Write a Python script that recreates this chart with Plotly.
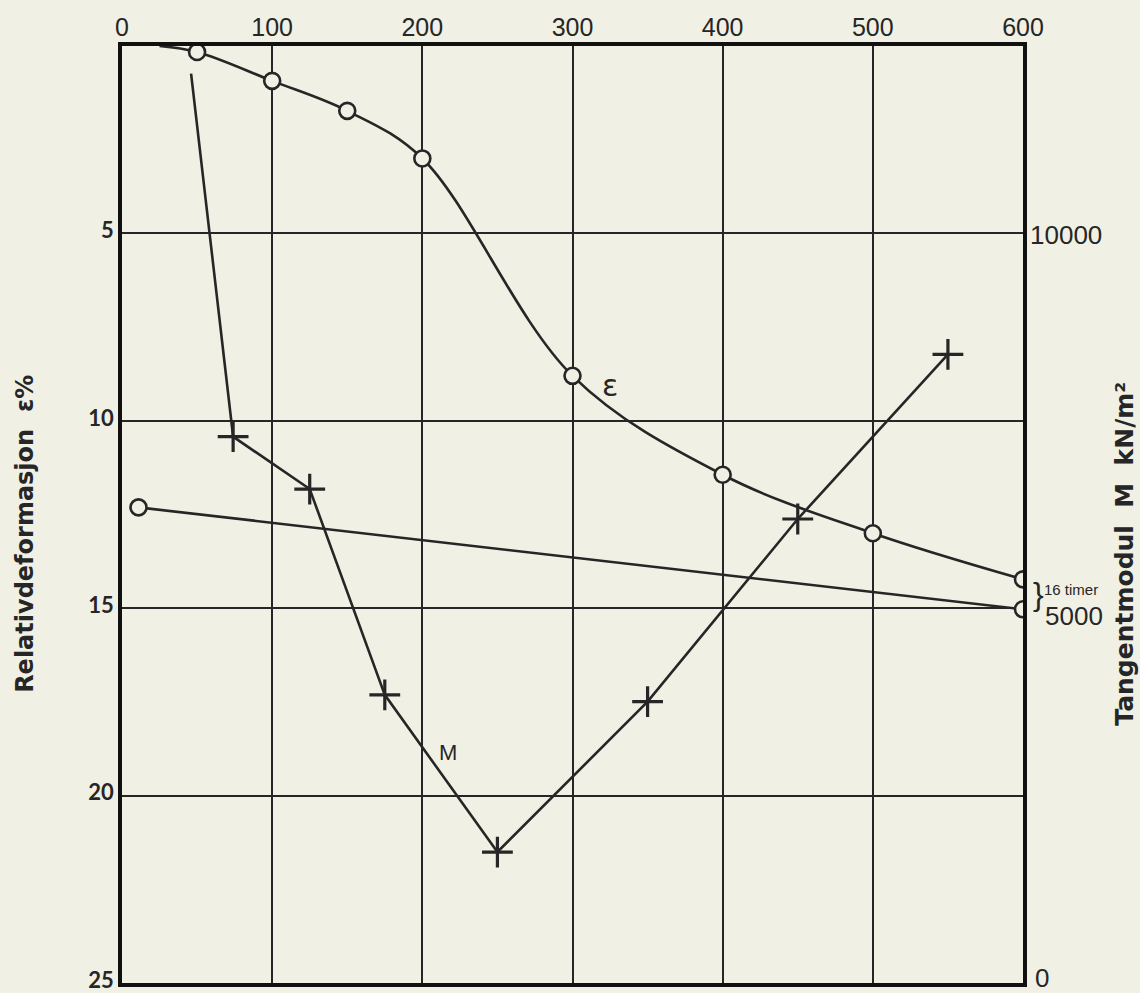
import plotly.graph_objects as go

# Oedometer test: load step (kN/m²) on the top axis
load_ticks = [0, 100, 200, 300, 400, 500, 600]

# Relative deformation ε (%) during loading
eps_load = [25, 50, 100, 150, 200, 300, 400, 500, 600]
eps_value = [0.0, 0.16, 0.93, 1.73, 3.0, 8.8, 11.44, 13.0, 14.23]

# After 16 hours at 600, then unloading
unload_load = [600, 11]
unload_eps = [15.03, 12.31]

# Tangent modulus M (kN/m²), plotted at the midpoint of each load step
m_load = [46, 74, 125, 175, 250, 350, 450, 550]
m_value = [12150, 7300, 6600, 3850, 1750, 3760, 6200, 8400]

eps_ticks = [5, 10, 15, 20, 25]
m_ticks = [0, 5000, 10000]
m_tick_text = ["0", "5000", "10000"]

INK = "#262626"
PAPER = "#f1f0e4"
PLAIN = "Liberation Sans, Arial, sans-serif"
BOLD = "Lato, Open Sans, sans-serif"
TITLE = "DejaVu Sans, sans-serif"

fig = go.Figure()

fig.add_trace(go.Scatter(
    x=eps_load, y=eps_value, mode="lines+markers",
    line=dict(color=INK, width=2.6, shape="spline", smoothing=1.0),
    marker=dict(symbol="circle", size=[0] + [16] * (len(eps_load) - 1),
                color=PAPER, opacity=1, line=dict(color=INK, width=2.6)),
    yaxis="y", showlegend=False, hoverinfo="skip",
))

fig.add_trace(go.Scatter(
    x=unload_load, y=unload_eps, mode="lines+markers",
    line=dict(color=INK, width=2.6),
    marker=dict(symbol="circle", size=16, color=PAPER, opacity=1,
                line=dict(color=INK, width=2.6)),
    yaxis="y", showlegend=False, hoverinfo="skip",
))

fig.add_trace(go.Scatter(
    x=m_load, y=m_value, mode="lines+markers",
    line=dict(color=INK, width=2.6),
    marker=dict(symbol="cross-thin-open", size=[0] + [22] * (len(m_load) - 1),
                color=INK, opacity=1, line=dict(color=INK, width=3.2)),
    yaxis="y2", showlegend=False, hoverinfo="skip",
))

annotations = [
    dict(x=325, y=9.07, xref="x", yref="y", text="ε", showarrow=False,
         font=dict(family="DejaVu Sans", size=30, color=INK)),
    dict(x=217, y=18.86, xref="x", yref="y", text="M", showarrow=False,
         font=dict(family=PLAIN, size=22, color=INK)),
    dict(x=600, y=14.63, xref="x", yref="y", text="}", showarrow=False,
         xanchor="left", xshift=8,
         font=dict(family=PLAIN, size=32, color=INK)),
    dict(x=600, y=14.5, xref="x", yref="y", text="16 timer", showarrow=False,
         xanchor="left", xshift=19,
         font=dict(family=PLAIN, size=15, color=INK)),
    dict(x=-0.108, y=0.479, xref="paper", yref="paper",
         xanchor="center", yanchor="middle",
         text="Relativdeformasjon  ε%", textangle=-90, showarrow=False,
         font=dict(family=TITLE, size=24, weight="bold", color=INK)),
    dict(x=1.113, y=0.458, xref="paper", yref="paper",
         xanchor="center", yanchor="middle",
         text="Tangentmodul  M  kN/m²", textangle=-90, showarrow=False,
         font=dict(family=TITLE, size=25, weight="bold", color=INK)),
]

# Right-hand M scale; the 5000 label sits below the "16 timer" brace
label_offsets = {0: (10, 5), 5000: (20, -7)}
for val, txt in zip(m_ticks, m_tick_text):
    dx, dy = label_offsets.get(val, (5, 0))
    annotations.append(dict(
        x=1, y=val, xref="paper", yref="y2", text=txt, showarrow=False,
        xanchor="left", yanchor="middle", xshift=dx, yshift=dy,
        font=dict(family=PLAIN, size=26, color=INK),
    ))

fig.update_layout(
    width=1140, height=993,
    margin=dict(l=122, r=117, t=46, b=10),
    paper_bgcolor=PAPER, plot_bgcolor=PAPER,
    annotations=annotations,
    xaxis=dict(
        range=[0, 600], side="top", tickvals=load_ticks,
        showgrid=True, gridcolor=INK, gridwidth=1.6,
        showline=True, linecolor="#111", linewidth=3.5, mirror=True,
        ticks="", zeroline=False, ticklabelstandoff=-4,
        automargin=False,
        tickfont=dict(family=PLAIN, size=25, color=INK),
    ),
    yaxis=dict(
        range=[25, 0], tickvals=eps_ticks,
        showgrid=True, gridcolor=INK, gridwidth=1.6,
        showline=True, linecolor="#111", linewidth=3.5, mirror=True,
        ticks="", zeroline=False, ticklabelstandoff=0, ticklabelshift=3,
        ticklabeloverflow="allow", automargin=False,
        tickfont=dict(family=BOLD, size=22, weight="bold", color=INK),
    ),
    yaxis2=dict(
        range=[0, 12520], tickvals=m_ticks, showticklabels=False,
        overlaying="y", side="right", automargin=False,
        showgrid=False, zeroline=False, showline=False, ticks="",
    ),
)

fig.write_html("out.html")
